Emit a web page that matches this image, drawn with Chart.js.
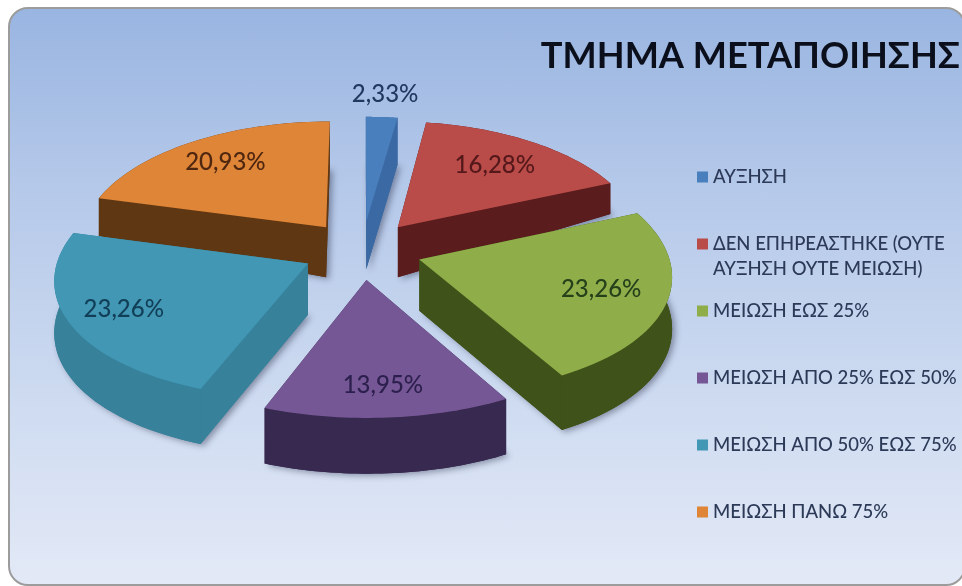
<!DOCTYPE html>
<html>
<head>
<meta charset="utf-8">
<style>
  html, body { margin: 0; padding: 0; background: #fff; }
  #frame {
    position: absolute; left: 8px; top: 7px; width: 954px; height: 575px;
    border: 2px solid #9c9c9c; border-radius: 20px; box-sizing: content-box;
    background: linear-gradient(180deg, #99b5e1 0%, #b4c8e9 30%, #cfdcf1 70%, #e3e9f6 100%);
  }
  #wrap { position: absolute; left: 0; top: 0; width: 962px; height: 586px; overflow: hidden; }
  canvas { filter: blur(0.6px); }
</style>
</head>
<body>
<div id="wrap">
  <div id="frame"></div>
  <canvas id="chart" width="962" height="586"></canvas>
</div>
<script src="https://cdn.jsdelivr.net/npm/chart.js@4"></script>
<script>
const categories = [
    'ΑΥΞΗΣΗ',
    ['ΔΕΝ ΕΠΗΡΕΑΣΤΗΚΕ (ΟΥΤΕ', 'ΑΥΞΗΣΗ ΟΥΤΕ ΜΕΙΩΣΗ)'],
    'ΜΕΙΩΣΗ ΕΩΣ 25%',
    'ΜΕΙΩΣΗ ΑΠΟ 25% ΕΩΣ 50%',
    'ΜΕΙΩΣΗ ΑΠΟ 50% ΕΩΣ 75%',
    'ΜΕΙΩΣΗ ΠΑΝΩ 75%'
]
const values = [2.33, 16.28, 23.26, 13.95, 23.26, 20.93]
const topColors = ['#4a7fbd', '#b94b48', '#8fae4a', '#755795', '#4197b4', '#de8537']
const wallColors = ['#3b69a3', '#5a1c1c', '#3f5219', '#37294f', '#37819a', '#5f3713']
const labelColors = ['#22395f', '#54181a', '#26401a', '#2c1f4d', '#123f58', '#4f2610']
const labelRadius = [1.25, 0.71, 0.74, 0.78, 0.78, 0.74]

// the pie is tilted: plane points are squashed and scaled by a simple perspective
const SQUASH = 0.489
const PERSPECTIVE_X = 0.115
const PERSPECTIVE_Y = 0.093
const CENTER_X = 362
const CENTER_Y = 250
const AREA_HALF = 278

// legend rows are spaced evenly, the two line entry does not push the next one down
const LEGEND_LEFT = 697
const LEGEND_TOP = 177
const LEGEND_STEP = 67
const LEGEND_LINE = 25

function wallDepth(v) {
    if (v < -0.9) return 47
    if (v < -0.2) return 50 + (v + 0.2) * 50
    return 50 + (v + 0.2) * 4
}

function project(arc, r, angle, lowered) {
    const R = arc.outerRadius
    const mid = (arc.startAngle + arc.endAngle) / 2
    const d = arc.options.offset / R
    const u = r * Math.cos(angle) + d * Math.cos(mid)
    const v = r * Math.sin(angle) + d * Math.sin(mid)
    const x = arc.x + R * u / (1 - PERSPECTIVE_X * v)
    const y = arc.y + R * SQUASH * v * (1 + PERSPECTIVE_Y * v)
    return { x: x, y: lowered ? y + wallDepth(v) : y, v: v }
}

function polygon(ctx, points) {
    ctx.beginPath()
    points.forEach((p, i) => i ? ctx.lineTo(p.x, p.y) : ctx.moveTo(p.x, p.y))
    ctx.closePath()
    ctx.fill()
}

function drawSlice(ctx, arc, top, wall) {
    const steps = 40
    const upper = [], lower = []
    for (let i = 0; i <= steps; i++) {
        const a = arc.startAngle + (arc.endAngle - arc.startAngle) * i / steps
        upper.push(project(arc, 1, a, false))
        lower.push(project(arc, 1, a, true))
    }
    const apexUp = project(arc, 0, 0, false)
    const apexLow = project(arc, 0, 0, true)

    ctx.save()
    ctx.fillStyle = wall
    ctx.shadowColor = 'rgba(40,45,70,0.45)'
    ctx.shadowBlur = 6
    ctx.shadowOffsetX = 3
    ctx.shadowOffsetY = 2
    polygon(ctx, [apexLow].concat(lower))
    ctx.restore()

    ctx.fillStyle = wall
    polygon(ctx, [apexUp, upper[0], lower[0], apexLow])
    polygon(ctx, [apexUp, upper[steps], lower[steps], apexLow])
    polygon(ctx, upper.concat(lower.slice().reverse()))
    ctx.fillStyle = top
    polygon(ctx, [apexUp].concat(upper))
}

const tiltedPie = {
    id: 'tiltedPie',
    afterLayout(chart) {
        // fix the pie box so the centre and radius fall where the reference has them
        const area = chart.chartArea
        area.left = CENTER_X - AREA_HALF
        area.right = CENTER_X + AREA_HALF
        area.top = CENTER_Y - AREA_HALF
        area.bottom = CENTER_Y + AREA_HALF
        area.width = AREA_HALF * 2
        area.height = AREA_HALF * 2

        chart.titleBlock.right = 960
        chart.titleBlock.top = 35
    },
    beforeDatasetsDraw(chart) {
        const ctx = chart.ctx
        const arcs = chart.getDatasetMeta(0).data
        const order = arcs.map((arc, i) => i).sort((a, b) => {
            return project(arcs[a], 0, 0, false).v - project(arcs[b], 0, 0, false).v
        })
        order.forEach(i => drawSlice(ctx, arcs[i], topColors[i], wallColors[i]))

        ctx.save()
        ctx.font = '500 24px Lato'
        ctx.textAlign = 'center'
        ctx.textBaseline = 'middle'
        arcs.forEach((arc, i) => {
            const mid = (arc.startAngle + arc.endAngle) / 2
            const p = project(arc, labelRadius[i], mid, false)
            ctx.fillStyle = labelColors[i]
            ctx.fillText(values[i].toFixed(2).replace('.', ',') + '%', p.x, p.y)
        })
        ctx.restore()
        return false
    },
    afterDraw(chart) {
        const ctx = chart.ctx
        ctx.save()
        ctx.font = '500 18.5px Lato'
        ctx.textBaseline = 'middle'
        categories.forEach((label, i) => {
            const y = LEGEND_TOP + LEGEND_STEP * i
            ctx.fillStyle = topColors[i]
            ctx.fillRect(LEGEND_LEFT, y - 5.5, 11, 11)
            ctx.fillStyle = '#2c3a58'
            ;[].concat(label).forEach((line, k) => {
                ctx.fillText(line, LEGEND_LEFT + 16, y + LEGEND_LINE * k)
            })
        })
        ctx.restore()
    }
}

new Chart(document.getElementById('chart'), {
    type: 'pie',
    data: {
        labels: categories,
        datasets: [{
            data: values,
            backgroundColor: topColors,
            borderWidth: 0,
            offset: 60,
            hoverOffset: 0
        }]
    },
    plugins: [tiltedPie],
    options: {
        responsive: false,
        animation: false,
        events: [],
        plugins: {
            tooltip: { enabled: false },
            legend: { display: false },
            title: {
                display: true,
                text: 'ΤΜΗΜΑ ΜΕΤΑΠΟΙΗΣΗΣ',
                align: 'end',
                color: '#0b0f1c',
                padding: 0,
                font: { family: 'Lato', size: 36.2, weight: 'bold', lineHeight: 1.2 }
            }
        }
    }
})
</script>
</body>
</html>
